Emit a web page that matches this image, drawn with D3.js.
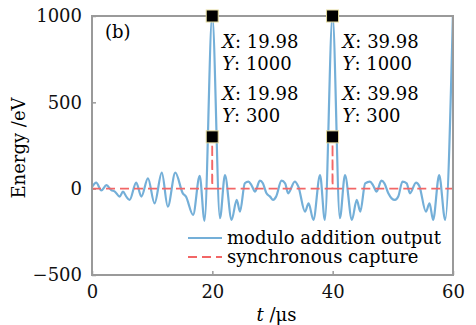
<!DOCTYPE html>
<html>
<head>
<meta charset="utf-8">
<script src="https://cdn.jsdelivr.net/npm/d3@7"></script>
<style>
  body { margin: 0; background: #fff; }
  svg { display: block; font-family: "DejaVu Serif", serif; }
</style>
</head>
<body>
<div id="chart"></div>
<script>
// time axis (us) and modulo addition output (eV)
const timeValues = [
  0, 0.7, 1.55, 2.4, 3.2, 3.8, 4.6, 5.15, 5.7, 6.25, 7.35, 8.2, 9.3, 10.4, 11.6, 12.6, 13.85,
  15.1, 15.6, 16.8, 17.9, 18.7, 19.98,
  21.27, 22.1, 23.2, 24.05, 24.6, 25.4, 26.0, 26.5, 27.1, 27.9, 28.4, 29.0, 29.6, 30.1, 30.6,
  31.5, 32.1, 32.6, 33.7, 34.3, 35.4, 36.0, 36.8, 37.9, 38.7, 39.98,
  41.2, 42.05, 43.2, 44.0, 44.6, 45.4, 46.2, 46.7, 47.3, 48.1, 48.6, 49.25, 49.8, 50.35, 50.9,
  51.6, 52.3, 52.85, 53.85, 54.4, 55.5, 56.1, 56.7, 57.7, 58.7, 59.98
];
const outputValues = [
  10, 35, -10, 20, -8, -17, -46, -17, -46, -65, 35, -46, 60, -85, 93, -104, 93,
  -27, -45, -152, 74, -186, 1000,
  -171, 79, -181, -65, -133, 31, 41, 21, -17, 46, 31, -27, -46, -65, -46,
  46, 31, -27, 41, 12, -133, -85, -181, 79, -181, 1000,
  -171, 79, -181, -65, -133, 31, 41, 21, -17, 46, 31, -27, -56, -65, -46,
  41, 31, -27, 35, 16, -133, -85, -181, 79, -181, 1000
];

// synchronous capture: zero with pulses at the capture instants
const captureTimes = [0, 19.96, 19.98, 20.0, 39.96, 39.98, 40.0, 60];
const captureValues = [0, 0, 300, 0, 0, 300, 0, 0];

// data cursors shown on the plot
const cursorX = [19.98, 19.98, 39.98, 39.98];
const cursorY = [1000, 300, 1000, 300];

const xTicks = [0, 20, 40, 60];
const yTicks = [-500, 0, 500, 1000];
const legendLabels = ['modulo addition output', 'synchronous capture'];

const W = 476, H = 325;
const margin = { top: 16, right: 23, bottom: 50, left: 92 };
const width = W - margin.left - margin.right;
const height = H - margin.top - margin.bottom;

const svg = d3.select('#chart').append('svg')
  .attr('width', W)
  .attr('height', H);

const g = svg.append('g')
  .attr('transform', `translate(${margin.left},${margin.top})`);

const x = d3.scaleLinear().domain([0, 60]).range([0, width]);
const y = d3.scaleLinear().domain([-500, 1000]).range([height, 0]);

// axes
const xAxis = g.append('g')
  .attr('transform', `translate(0,${height})`)
  .call(d3.axisBottom(x).tickValues(xTicks).tickSize(-4).tickPadding(10));
const yAxis = g.append('g')
  .call(d3.axisLeft(y).tickValues(yTicks).tickFormat(d3.format('d')).tickSize(-4).tickPadding(10));

[xAxis, yAxis].forEach(a => {
  a.select('.domain').remove();
  a.selectAll('line').attr('stroke', '#9a9a9a').attr('stroke-width', 1.5);
  a.selectAll('text').attr('font-size', 18).attr('fill', '#111')
    .attr('font-family', '"DejaVu Serif", serif');
});

// lines
const blue = d3.line()
  .x((d, i) => x(timeValues[i]))
  .y(d => y(d))
  .curve(d3.curveMonotoneX);

g.append('path')
  .datum(outputValues)
  .attr('fill', 'none')
  .attr('stroke', '#74afd8')
  .attr('stroke-width', 2.2)
  .attr('d', blue);

const red = d3.line()
  .x((d, i) => x(captureTimes[i]))
  .y(d => y(d));

g.append('path')
  .datum(captureValues)
  .attr('fill', 'none')
  .attr('stroke', '#f26666')
  .attr('stroke-width', 1.8)
  .attr('stroke-dasharray', '9,5')
  .attr('d', red);

// frame
g.append('rect')
  .attr('width', width)
  .attr('height', height)
  .attr('fill', 'none')
  .attr('stroke', '#9a9a9a')
  .attr('stroke-width', 2);

// panel tag
g.append('text')
  .attr('x', 13)
  .attr('y', 22)
  .attr('font-size', 18)
  .text('(b)');

// cursors
g.selectAll('.cursor')
  .data(cursorX)
  .enter().append('rect')
  .attr('x', d => x(d) - 6)
  .attr('y', (d, i) => y(cursorY[i]) - 6)
  .attr('width', 12)
  .attr('height', 12)
  .attr('fill', '#000')
  .attr('stroke', '#e6dca0')
  .attr('stroke-width', 1);

cursorX.forEach((cx, i) => {
  const top = cursorY[i] === 1000;
  const y0 = top ? y(cursorY[i]) + 32 : y(cursorY[i]) - 37;
  const t = g.append('text')
    .attr('x', x(cx) + 10)
    .attr('y', y0)
    .attr('font-size', 18);
  t.append('tspan').attr('font-style', 'italic').text('X');
  t.append('tspan').text(': ' + cx.toFixed(2));
  const t2 = g.append('text')
    .attr('x', x(cx) + 10)
    .attr('y', y0 + 22)
    .attr('font-size', 18);
  t2.append('tspan').attr('font-style', 'italic').text('Y');
  t2.append('tspan').text(': ' + cursorY[i]);
});

// legend
const legend = g.append('g').attr('transform', 'translate(96,222)');
legendLabels.forEach((label, i) => {
  const row = legend.append('g').attr('transform', `translate(0,${i * 19})`);
  row.append('line')
    .attr('x1', 0).attr('x2', 34)
    .attr('stroke', i === 0 ? '#74afd8' : '#f26666')
    .attr('stroke-width', i === 0 ? 2.2 : 1.8)
    .attr('stroke-dasharray', i === 0 ? null : '9,5');
  row.append('text')
    .attr('x', 39)
    .attr('y', 6)
    .attr('font-size', 18)
    .text(label);
});

// axis titles
const xt = svg.append('text')
  .attr('x', margin.left + width / 2 + 4)
  .attr('y', 321)
  .attr('text-anchor', 'middle')
  .attr('font-size', 18);
xt.append('tspan').attr('font-style', 'italic').text('t');
xt.append('tspan').text(' /μs');

svg.append('text')
  .attr('transform', 'translate(25,148) rotate(-90)')
  .attr('text-anchor', 'middle')
  .attr('font-size', 18)
  .text('Energy /eV');
</script>
</body>
</html>
